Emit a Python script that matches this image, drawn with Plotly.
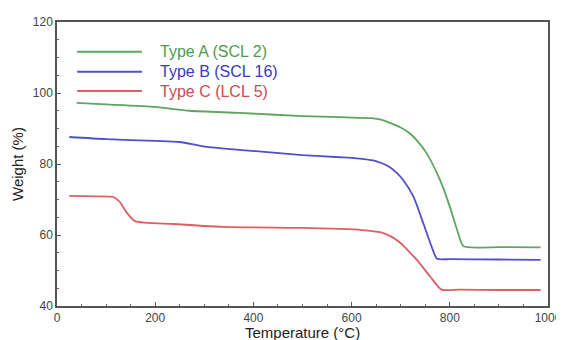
import plotly.graph_objects as go

# Data
names = ["Type A (SCL 2)", "Type B (SCL 16)", "Type C (LCL 5)"]

temp_a = [40, 100, 200, 270, 370, 500, 576, 640, 660, 678, 700, 719, 735, 753, 780, 800, 817, 828, 900, 985]
weight_a = [97.2, 96.8, 96.1, 95.0, 94.4, 93.5, 93.2, 92.9, 92.5, 91.6, 90.3, 88.6, 86.3, 83.0, 75.5, 68.0, 60.5, 56.8, 56.6, 56.5]

temp_b = [25, 100, 200, 250, 305, 405, 500, 576, 610, 644, 662, 678, 692, 705, 726, 746, 763, 774, 800, 900, 985]
weight_b = [87.6, 87.0, 86.5, 86.2, 84.8, 83.6, 82.5, 81.9, 81.6, 81.0, 80.2, 79.1, 77.5, 75.5, 70.8, 63.3, 56.7, 53.3, 53.2, 53.1, 53.0]

temp_c = [25, 80, 115, 128, 141, 159, 237, 339, 500, 576, 620, 658, 680, 699, 715, 733, 760, 783, 820, 900, 985]
weight_c = [71.0, 70.9, 70.7, 69.3, 66.5, 63.9, 63.1, 62.3, 62.0, 61.7, 61.4, 60.8, 59.6, 57.8, 55.6, 53.0, 48.3, 44.6, 44.6, 44.5, 44.5]

x_ticks = [0, 200, 400, 600, 800, 1000]
y_ticks = [40, 60, 80, 100, 120]
x_title = "Temperature (°C)"
y_title = "Weight (%)"

line_colors = ["#5fa55f", "#5050c8", "#dc5f64"]
text_colors = ["#4f9a4f", "#3a3ab8", "#cf4a50"]

series = [(temp_a, weight_a), (temp_b, weight_b), (temp_c, weight_c)]

fig = go.Figure()
for (xs, ys), nm, col in zip(series, names, line_colors):
    fig.add_trace(go.Scatter(x=xs, y=ys, name=nm, mode="lines",
                             line=dict(color=col, width=1.8, shape="spline", smoothing=0.6),
                             showlegend=False))

# Manual legend (swatch lines + coloured labels)
leg_y = [0.895, 0.825, 0.757]
for nm, lc, tc, yy in zip(names, line_colors, text_colors, leg_y):
    fig.add_shape(type="line", xref="paper", yref="paper",
                  x0=0.041, x1=0.173, y0=yy, y1=yy,
                  line=dict(color=lc, width=2))
    fig.add_annotation(xref="paper", yref="paper", x=0.205, y=yy,
                       text=nm, showarrow=False, xanchor="left", yanchor="middle",
                       font=dict(color=tc, size=16, family="Liberation Sans, Arial"))

# x-axis title as annotation (placed just below tick labels)
fig.add_annotation(xref="paper", yref="paper", x=0.5, y=-0.093,
                   text=x_title, showarrow=False, xanchor="center", yanchor="middle",
                   font=dict(size=15, color="#222222", family="Liberation Sans, Arial"))

axis_common = dict(
    showline=True, linecolor="#555555", linewidth=1.5, mirror=True,
    ticks="inside", ticklen=4, tickcolor="#555555", tickwidth=1,
    showgrid=False, zeroline=False, automargin=False,
    tickfont=dict(size=12, color="#444444", family="Liberation Sans, Arial"),
)

fig.update_xaxes(range=[0, 1000], tickvals=x_ticks,
                 minor=dict(dtick=50, ticks="inside", ticklen=2, tickcolor="#666666"),
                 **axis_common)
fig.update_yaxes(range=[40, 120], tickvals=y_ticks,
                 minor=dict(dtick=5, ticks="inside", ticklen=2, tickcolor="#666666"),
                 title=dict(text=y_title, standoff=6,
                            font=dict(size=15, color="#222222", family="Liberation Sans, Arial")),
                 **axis_common)

# page body has an 8px default margin, so the figure is shrunk by 8px and margins offset
fig.update_layout(width=556, height=332,
                  margin=dict(l=49, r=16, t=14, b=34),
                  plot_bgcolor="white", paper_bgcolor="white",
                  font=dict(family="Liberation Sans, Arial"))

fig.write_html("out.html")
